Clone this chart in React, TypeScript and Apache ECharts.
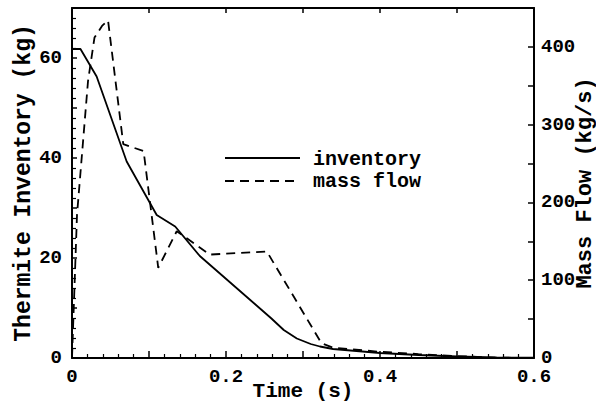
import React, { useEffect, useRef } from "react";
import * as echarts from "echarts";

// Thermite inventory (kg), left axis
const invTime = [0, 0.011, 0.032, 0.071, 0.11, 0.134, 0.166, 0.259, 0.275, 0.292, 0.31, 0.322, 0.339, 0.4, 0.45, 0.5, 0.55, 0.6];
const invKg = [61.8, 61.8, 56.3, 39.3, 28.6, 26.3, 20.4, 7.9, 5.6, 3.9, 2.8, 2.3, 1.8, 1.0, 0.6, 0.3, 0.1, 0.05];

// Mass flow (kg/s), right axis
const flowTime = [0, 0.0065, 0.0208, 0.0292, 0.039, 0.0468, 0.0666, 0.093, 0.112, 0.136, 0.179, 0.253, 0.324, 0.34, 0.4, 0.45, 0.5, 0.55, 0.6];
const flowKgS = [0, 184, 356, 412, 427, 434, 275, 266, 116, 163, 133, 137, 19, 13, 8, 5, 2.5, 0.5, 0];

const seriesNames = ["inventory", "mass flow"];
const xTitle = "Time (s)";
const yLeftTitle = "Thermite Inventory (kg)";
const yRightTitle = "Mass Flow (kg/s)";

const FONT = "Liberation Mono";
const TICK = "#000";

export default function App() {
  const ref = useRef<HTMLDivElement>(null);
  useEffect(() => {
    if (!ref.current) return;
    const chart = echarts.init(ref.current, undefined, { renderer: "svg" });
    const labelStyle = {
      fontFamily: FONT,
      fontWeight: "bold" as const,
      fontSize: 19,
      color: "#000",
    };
    const axisLine = { show: true, onZero: false, lineStyle: { color: "#000", width: 2 } };
    const legendText = {
      fontFamily: FONT,
      fontWeight: "bold",
      fontSize: 20,
      fill: "#000",
      verticalAlign: "middle",
      align: "left",
    };
    const option = {
      animation: false,
      backgroundColor: "#fff",
      grid: { left: 72, right: 62, top: 8, bottom: 45, containLabel: false, outerBoundsMode: "none" },
      graphic: [
        { type: "line", shape: { x1: 225, y1: 158, x2: 300, y2: 158 }, style: { stroke: "#000", lineWidth: 1.8 } },
        { type: "text", x: 313, y: 159, style: { ...legendText, text: seriesNames[0] } },
        {
          type: "line",
          shape: { x1: 225, y1: 181, x2: 300, y2: 181 },
          style: { stroke: "#000", lineWidth: 1.8, lineDash: [9, 6] },
        },
        { type: "text", x: 313, y: 181, style: { ...legendText, text: seriesNames[1] } },
      ],
      xAxis: [
        {
          type: "value",
          position: "bottom",
          min: 0,
          max: 0.6,
          interval: 0.1,
          axisLine,
          axisTick: { show: true, inside: true, length: 7, lineStyle: { color: TICK, width: 1.5, opacity: 1 } },
          minorTick: { show: true, splitNumber: 5, length: 4, lineStyle: { color: TICK, width: 1.2, opacity: 1 } },
          splitLine: { show: false },
          minorSplitLine: { show: false },
          axisLabel: {
            ...labelStyle,
            margin: 9,
            formatter: (v: number) => {
              const k = Math.round(v * 10);
              return k % 2 === 0 ? (k === 0 ? "0" : (k / 10).toFixed(1)) : "";
            },
          },
          name: xTitle,
          nameLocation: "middle",
          nameGap: 23,
          nameMoveOverlap: false,
          nameTextStyle: { fontFamily: FONT, fontWeight: "bold", fontSize: 21, color: "#000" },
        },
        {
          type: "value",
          position: "top",
          min: 0,
          max: 0.6,
          interval: 0.1,
          axisLine,
          axisTick: { show: true, inside: true, length: 5, lineStyle: { color: TICK, width: 1.5, opacity: 1 } },
          axisLabel: { show: false },
          splitLine: { show: false },
        },
      ],
      yAxis: [
        {
          type: "value",
          position: "left",
          min: 0,
          max: 70,
          interval: 10,
          axisLine,
          axisTick: { show: true, inside: true, length: 5, lineStyle: { color: TICK, width: 1.5, opacity: 1 } },
          minorTick: { show: true, splitNumber: 5, length: 4, lineStyle: { color: TICK, width: 1.2, opacity: 1 } },
          splitLine: { show: false },
          minorSplitLine: { show: false },
          axisLabel: {
            ...labelStyle,
            margin: 10,
            formatter: (v: number) => (Math.round(v) % 20 === 0 ? String(Math.round(v)) : ""),
          },
          name: yLeftTitle,
          nameLocation: "middle",
          nameRotate: 90,
          nameGap: 37,
          nameMoveOverlap: false,
          nameTextStyle: { fontFamily: FONT, fontWeight: "bold", fontSize: 23, color: "#000" },
        },
        {
          type: "value",
          position: "right",
          min: 0,
          max: 450,
          interval: 50,
          axisLine,
          axisTick: { show: true, inside: true, length: 6, lineStyle: { color: TICK, width: 1.5, opacity: 1 } },
          splitLine: { show: false },
          axisLabel: {
            ...labelStyle,
            margin: 7,
            formatter: (v: number) => (Math.round(v) % 100 === 0 ? String(Math.round(v)) : ""),
          },
          name: yRightTitle,
          nameLocation: "middle",
          nameRotate: 90,
          nameGap: 40,
          nameMoveOverlap: false,
          nameTextStyle: { fontFamily: FONT, fontWeight: "bold", fontSize: 22, lineHeight: 22, color: "#000" },
        },
      ],
      series: [
        {
          name: seriesNames[0],
          type: "line",
          xAxisIndex: 0,
          yAxisIndex: 0,
          symbol: "none",
          lineStyle: { color: "#000", width: 1.8, type: "solid" },
          itemStyle: { color: "#000" },
          data: invTime.map((t, i) => [t, invKg[i]]),
        },
        {
          name: seriesNames[1],
          type: "line",
          xAxisIndex: 0,
          yAxisIndex: 1,
          symbol: "none",
          lineStyle: { color: "#000", width: 1.8, type: [9, 6] },
          itemStyle: { color: "#000" },
          data: flowTime.map((t, i) => [t, flowKgS[i]]),
        },
      ],
    };
    chart.setOption(option as any);
    return () => chart.dispose();
  }, []);
  return (
    <div
      ref={ref}
      style={{ position: "fixed", left: 0, top: 0, width: 596, height: 403, background: "#fff" }}
    />
  );
}
